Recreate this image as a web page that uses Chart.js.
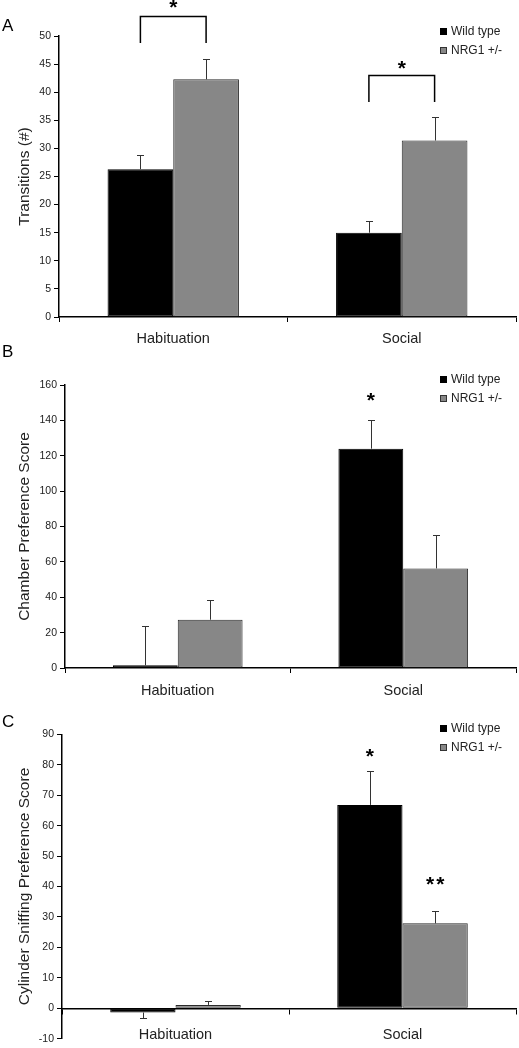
<!DOCTYPE html>
<html><head><meta charset="utf-8">
<script src="https://cdn.jsdelivr.net/npm/chart.js@4.4.1/dist/chart.umd.min.js"></script>
<style>
html,body{margin:0;padding:0;background:#fff;}
body{width:519px;height:1048px;position:relative;overflow:hidden;}
.panel{position:absolute;left:0;width:519px;}
canvas{display:block;}
</style></head><body>
<div class="panel" style="top:0;height:345px"><canvas id="cA" width="519" height="345"></canvas></div>
<div class="panel" style="top:345px;height:355px"><canvas id="cB" width="519" height="355"></canvas></div>
<div class="panel" style="top:700px;height:348px"><canvas id="cC" width="519" height="348"></canvas></div>
<script>
// ---- data ----
const categories = ['Habituation', 'Social'];
const seriesNames = ['Wild type', 'NRG1 +/-'];

const transitionsWT = [26.3, 15.0];
const transitionsWTErr = [2.5, 2.1];
const transitionsNRG = [42.3, 31.4];
const transitionsNRGErr = [3.6, 4.2];

const chamberWT = [1.5, 124.0];
const chamberWTErr = [22.4, 16.1];
const chamberNRG = [27.3, 56.3];
const chamberNRGErr = [11.1, 18.8];

const sniffWT = [-1.4, 66.8];
const sniffWTErr = [1.9, 11.0];
const sniffNRG = [1.1, 27.9];
const sniffNRGErr = [1.3, 3.9];

const ticksA = [0, 5, 10, 15, 20, 25, 30, 35, 40, 45, 50];
const ticksB = [0, 20, 40, 60, 80, 100, 120, 140, 160];
const ticksC = [-10, 0, 10, 20, 30, 40, 50, 60, 70, 80, 90];

const titleA = 'Transitions (#)';
const titleB = 'Chamber Preference Score';
const titleC = 'Cylinder Sniffing Preference Score';

// significance marks (category index, value positions)
const sigA = [
  {type: 'bracket', cat: 0, leg: 48.8, top: 53.6, star: 56.0, text: '*'},
  {type: 'bracket', cat: 1, leg: 38.3, top: 43.0, star: 45.2, text: '*'}
];
const sigB = [{type: 'star', cat: 1, ds: 0, star: 154.4, text: '*'}];
const sigC = [
  {type: 'star', cat: 1, ds: 0, star: 84.4, text: '*'},
  {type: 'star', cat: 1, ds: 1, star: 42.3, text: '**'}
];

// ---- styling ----
const FONT = "'Liberation Sans', Arial, sans-serif";
const BLACK = '#000000';
const GREY = '#878787';
const TEXT = '#222222';

const decorPlugin = {
  id: 'decor',
  afterDatasetsDraw(chart, args, opts) {
    const ctx = chart.ctx;
    const y = chart.scales.y;
    ctx.save();
    // error bars
    chart.data.datasets.forEach((ds, di) => {
      const meta = chart.getDatasetMeta(di);
      ds.errors.forEach((e, i) => {
        const v = ds.data[i];
        const bar = meta.data[i];
        const end = v >= 0 ? v + e : v - e;
        const py = y.getPixelForValue(end);
        const x = Math.round(bar.x) + 0.5;
        ctx.strokeStyle = '#333';
        ctx.lineWidth = 1;
        ctx.beginPath();
        ctx.moveTo(x, bar.y);
        ctx.lineTo(x, Math.round(py) + 0.5);
        ctx.moveTo(x - 3.5, Math.round(py) + 0.5);
        ctx.lineTo(x + 3.5, Math.round(py) + 0.5);
        ctx.stroke();
      });
    });
    // significance
    ctx.fillStyle = '#000';
    ctx.strokeStyle = '#000';
    (opts.sig || []).forEach(s => {
      let sx;
      if (s.type === 'bracket') {
        const x0 = chart.getDatasetMeta(0).data[s.cat].x;
        const x1 = chart.getDatasetMeta(1).data[s.cat].x;
        const yl = Math.round(y.getPixelForValue(s.leg));
        const yt = Math.round(y.getPixelForValue(s.top)) + 0.5;
        ctx.lineWidth = 1.5;
        ctx.beginPath();
        ctx.moveTo(x0, yl); ctx.lineTo(x0, yt); ctx.lineTo(x1, yt); ctx.lineTo(x1, yl);
        ctx.stroke();
        sx = (x0 + x1) / 2;
      } else {
        sx = chart.getDatasetMeta(s.ds).data[s.cat].x;
      }
      const sy = y.getPixelForValue(s.star);
      ctx.font = 'bold 21px ' + FONT;
      ctx.textAlign = 'center';
      ctx.textBaseline = 'alphabetic';
      if ('letterSpacing' in ctx) ctx.letterSpacing = s.text.length > 1 ? '2px' : '0px';
      ctx.fillText(s.text, sx + (s.text.length > 1 ? 1 : 0), sy + 12);
      if ('letterSpacing' in ctx) ctx.letterSpacing = '0px';
    });
    // legend
    ctx.font = '12px ' + FONT;
    ctx.textAlign = 'left';
    ctx.textBaseline = 'middle';
    chart.data.datasets.forEach((ds, di) => {
      const ly = opts.legendTop + di * opts.legendGap;
      ctx.fillStyle = ds.backgroundColor;
      ctx.fillRect(440, Math.round(ly - 3.5), 7, 7);
      if (ds.backgroundColor !== BLACK) {
        ctx.strokeStyle = '#333';
        ctx.lineWidth = 1;
        ctx.strokeRect(440.5, Math.round(ly - 3.5) + 0.5, 6, 6);
      }
      ctx.fillStyle = TEXT;
      ctx.fillText(ds.label, 451, ly + 0.5);
    });
    // panel letter
    ctx.font = '17px ' + FONT;
    ctx.fillStyle = '#000';
    ctx.textBaseline = 'alphabetic';
    ctx.fillText(opts.letter, 2, opts.letterY);
    ctx.restore();
  }
};

function makeChart(id, cfg) {
  const xPos = cfg.zeroAxis ? {y: 0} : 'bottom';
  return new Chart(document.getElementById(id), {
    type: 'bar',
    data: {
      labels: categories,
      datasets: [
        {label: seriesNames[0], data: cfg.wt, errors: cfg.wtErr, backgroundColor: BLACK,
         borderColor: BLACK, borderWidth: 1, borderSkipped: false},
        {label: seriesNames[1], data: cfg.nrg, errors: cfg.nrgErr, backgroundColor: GREY,
         borderColor: '#2a2a2a', borderWidth: 1, borderSkipped: false}
      ]
    },
    options: {
      responsive: false,
      animation: false,
      events: [],
      layout: {padding: cfg.padding},
      datasets: {bar: {categoryPercentage: 0.575, barPercentage: 1.0}},
      plugins: {
        legend: {display: false},
        tooltip: {enabled: false},
        decor: {letter: cfg.letter, letterY: cfg.letterY, legendTop: cfg.legendTop,
                legendGap: 19, sig: cfg.sig}
      },
      scales: {
        x: {
          position: xPos,
          afterFit: s => { s.height = cfg.xHeight; },
          border: {display: true, color: '#000', width: 1.5},
          grid: {offset: true, drawOnChartArea: false, drawTicks: true, tickLength: 5, color: '#000'},
          ticks: {padding: cfg.xPad, color: TEXT, font: {family: FONT, size: 14.5}}
        },
        y: {
          min: cfg.ticks[0],
          max: cfg.ticks[cfg.ticks.length - 1],
          afterBuildTicks: s => { s.ticks = cfg.ticks.map(v => ({value: v})); },
          afterFit: s => { s.width = cfg.yWidth; },
          border: {display: true, color: '#000', width: 1.5},
          grid: {drawOnChartArea: false, drawTicks: true, tickLength: 5, color: '#000'},
          ticks: {padding: 3, color: TEXT, font: {family: FONT, size: 10.5}},
          title: {display: true, text: cfg.title, color: TEXT,
                  font: {family: FONT, size: 15.5}, padding: {top: 15.7, bottom: 0}}
        }
      }
    },
    plugins: [decorPlugin]
  });
}

makeChart('cA', {
  wt: transitionsWT, wtErr: transitionsWTErr, nrg: transitionsNRG, nrgErr: transitionsNRGErr,
  ticks: ticksA, title: titleA, letter: 'A', letterY: 31, legendTop: 31, sig: sigA,
  padding: {top: 36, right: 3, left: 0, bottom: 0}, xHeight: 28, yWidth: 59, xPad: 8
});
makeChart('cB', {
  wt: chamberWT, wtErr: chamberWTErr, nrg: chamberNRG, nrgErr: chamberNRGErr,
  ticks: ticksB, title: titleB, letter: 'B', letterY: 12, legendTop: 34, sig: sigB,
  padding: {top: 40, right: 3, left: 0, bottom: 0}, xHeight: 32, yWidth: 65, xPad: 9
});
makeChart('cC', {
  wt: sniffWT, wtErr: sniffWTErr, nrg: sniffNRG, nrgErr: sniffNRGErr,
  ticks: ticksC, title: titleC, letter: 'C', letterY: 27, legendTop: 28.3, sig: sigC, zeroAxis: true,
  padding: {top: 34.3, right: 3, left: 0, bottom: 5.5}, xHeight: 28, yWidth: 62, xPad: 13
});
</script>
</body></html>
